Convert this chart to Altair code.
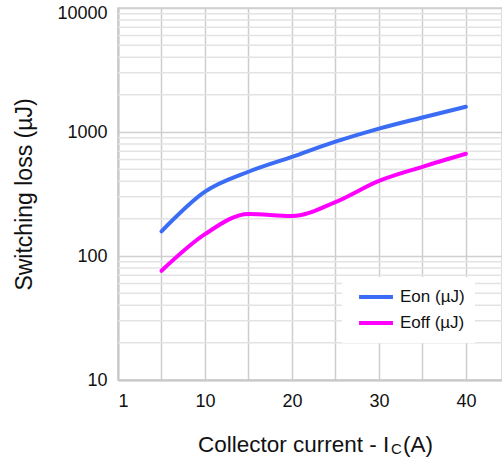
import altair as alt
import pandas as pd

# Collector current (A) and switching energies (µJ)
current = [5, 10, 15, 20, 25, 30, 35, 40]
eon = [158, 330, 478, 630, 835, 1065, 1310, 1600]
eoff = [76, 150, 218, 210, 272, 403, 524, 668]

x_ticks = [0, 5, 10, 15, 20, 25, 30, 35, 40]
y_major = [10, 100, 1000, 10000]
y_minor = [m * 10 ** k for k in (1, 2, 3) for m in range(2, 10)]

series_names = ["Eon (µJ)", "Eoff (µJ)"]
series_colors = ["#3a6cf6", "#ff00ff"]

rows = []
for c, a, b in zip(current, eon, eoff):
    rows.append({"Ic": c, "E": a, "series": series_names[0]})
    rows.append({"Ic": c, "E": b, "series": series_names[1]})
df = pd.DataFrame(rows)

W, H = 384, 372
FONT = "Liberation Sans"
INK = "#111111"

x_scale = alt.Scale(domain=[0, 44.15], nice=False, zero=False)
y_scale = alt.Scale(type="log", domain=[10, 10000], nice=False)

y_axis = alt.Axis(
    values=y_major,
    format="d",
    ticks=False,
    domain=True,
    domainColor="#c8c8c8",
    domainWidth=2,
    grid=True,
    gridColor="#d0d0d0",
    gridWidth=1.5,
    labelFont=FONT,
    labelFontSize=18,
    labelColor=INK,
    labelPadding=11,
    labelOffset={"condition": {"test": "datum.value >= 10000", "value": 5}, "value": 0},
    title=None,
)

x_axis = alt.Axis(
    values=x_ticks,
    labelExpr="datum.value == 0 ? '1' : (datum.value % 10 == 0 ? datum.label : '')",
    ticks=False,
    domain=True,
    domainColor="#c8c8c8",
    domainWidth=2,
    grid=True,
    gridColor="#cdcdcd",
    gridWidth=1.5,
    labelFont=FONT,
    labelFontSize=18,
    labelColor=INK,
    labelPadding=12,
    title=None,
)

# light minor gridlines of the log axis
minor = alt.Chart(pd.DataFrame({"v": y_minor})).mark_rule(
    color="#e3e3e3", strokeWidth=1.5
).encode(y=alt.Y("v:Q", scale=y_scale, axis=y_axis))

lines = alt.Chart(df).mark_line(
    strokeWidth=4, interpolate="monotone", strokeCap="round"
).encode(
    x=alt.X("Ic:Q", scale=x_scale, axis=x_axis),
    y=alt.Y("E:Q", scale=y_scale, axis=y_axis),
    color=alt.Color(
        "series:N",
        scale=alt.Scale(domain=series_names, range=series_colors),
        sort=series_names,
        legend=alt.Legend(
            title=None,
            orient="none",
            legendX=224,
            legendY=269,
            fillColor="white",
            padding=10,
            symbolType="stroke",
            symbolStrokeWidth=4,
            symbolSize=1150,
            symbolOffset=5,
            clipHeight=20,
            labelFont=FONT,
            labelFontSize=17,
            labelColor=INK,
            rowPadding=6,
            labelOffset=5,
        ),
    ),
)


def label(text, size, x, y, angle=0, align="left", baseline="alphabetic"):
    return alt.Chart(pd.DataFrame({"t": [text]})).mark_text(
        font=FONT, fontSize=size, align=align, baseline=baseline,
        color=INK, angle=angle,
    ).encode(text="t:N", x=alt.value(x), y=alt.value(y))


# axis titles (the x title carries a subscripted "C")
y_title = label("Switching loss (µJ)", 23, -93, 186.5, angle=270,
                align="center", baseline="middle")
x_title_main = label("Collector current - I", 22.5, 80, 444)
x_title_sub = label("C", 15, 273, 446)
x_title_end = label("(A)", 22.5, 285, 444)

chart = (
    alt.layer(minor, lines, y_title, x_title_main, x_title_sub, x_title_end)
    .properties(
        width=W,
        height=H,
        autosize=alt.AutoSizeParams(type="none"),
        padding={"left": 118, "top": 8, "right": 0, "bottom": 81},
        background="white",
    )
    .configure_view(stroke="#d0d0d0", strokeWidth=1.5)
)

chart.save("out.html", embed_options={"renderer": "svg", "actions": False})
